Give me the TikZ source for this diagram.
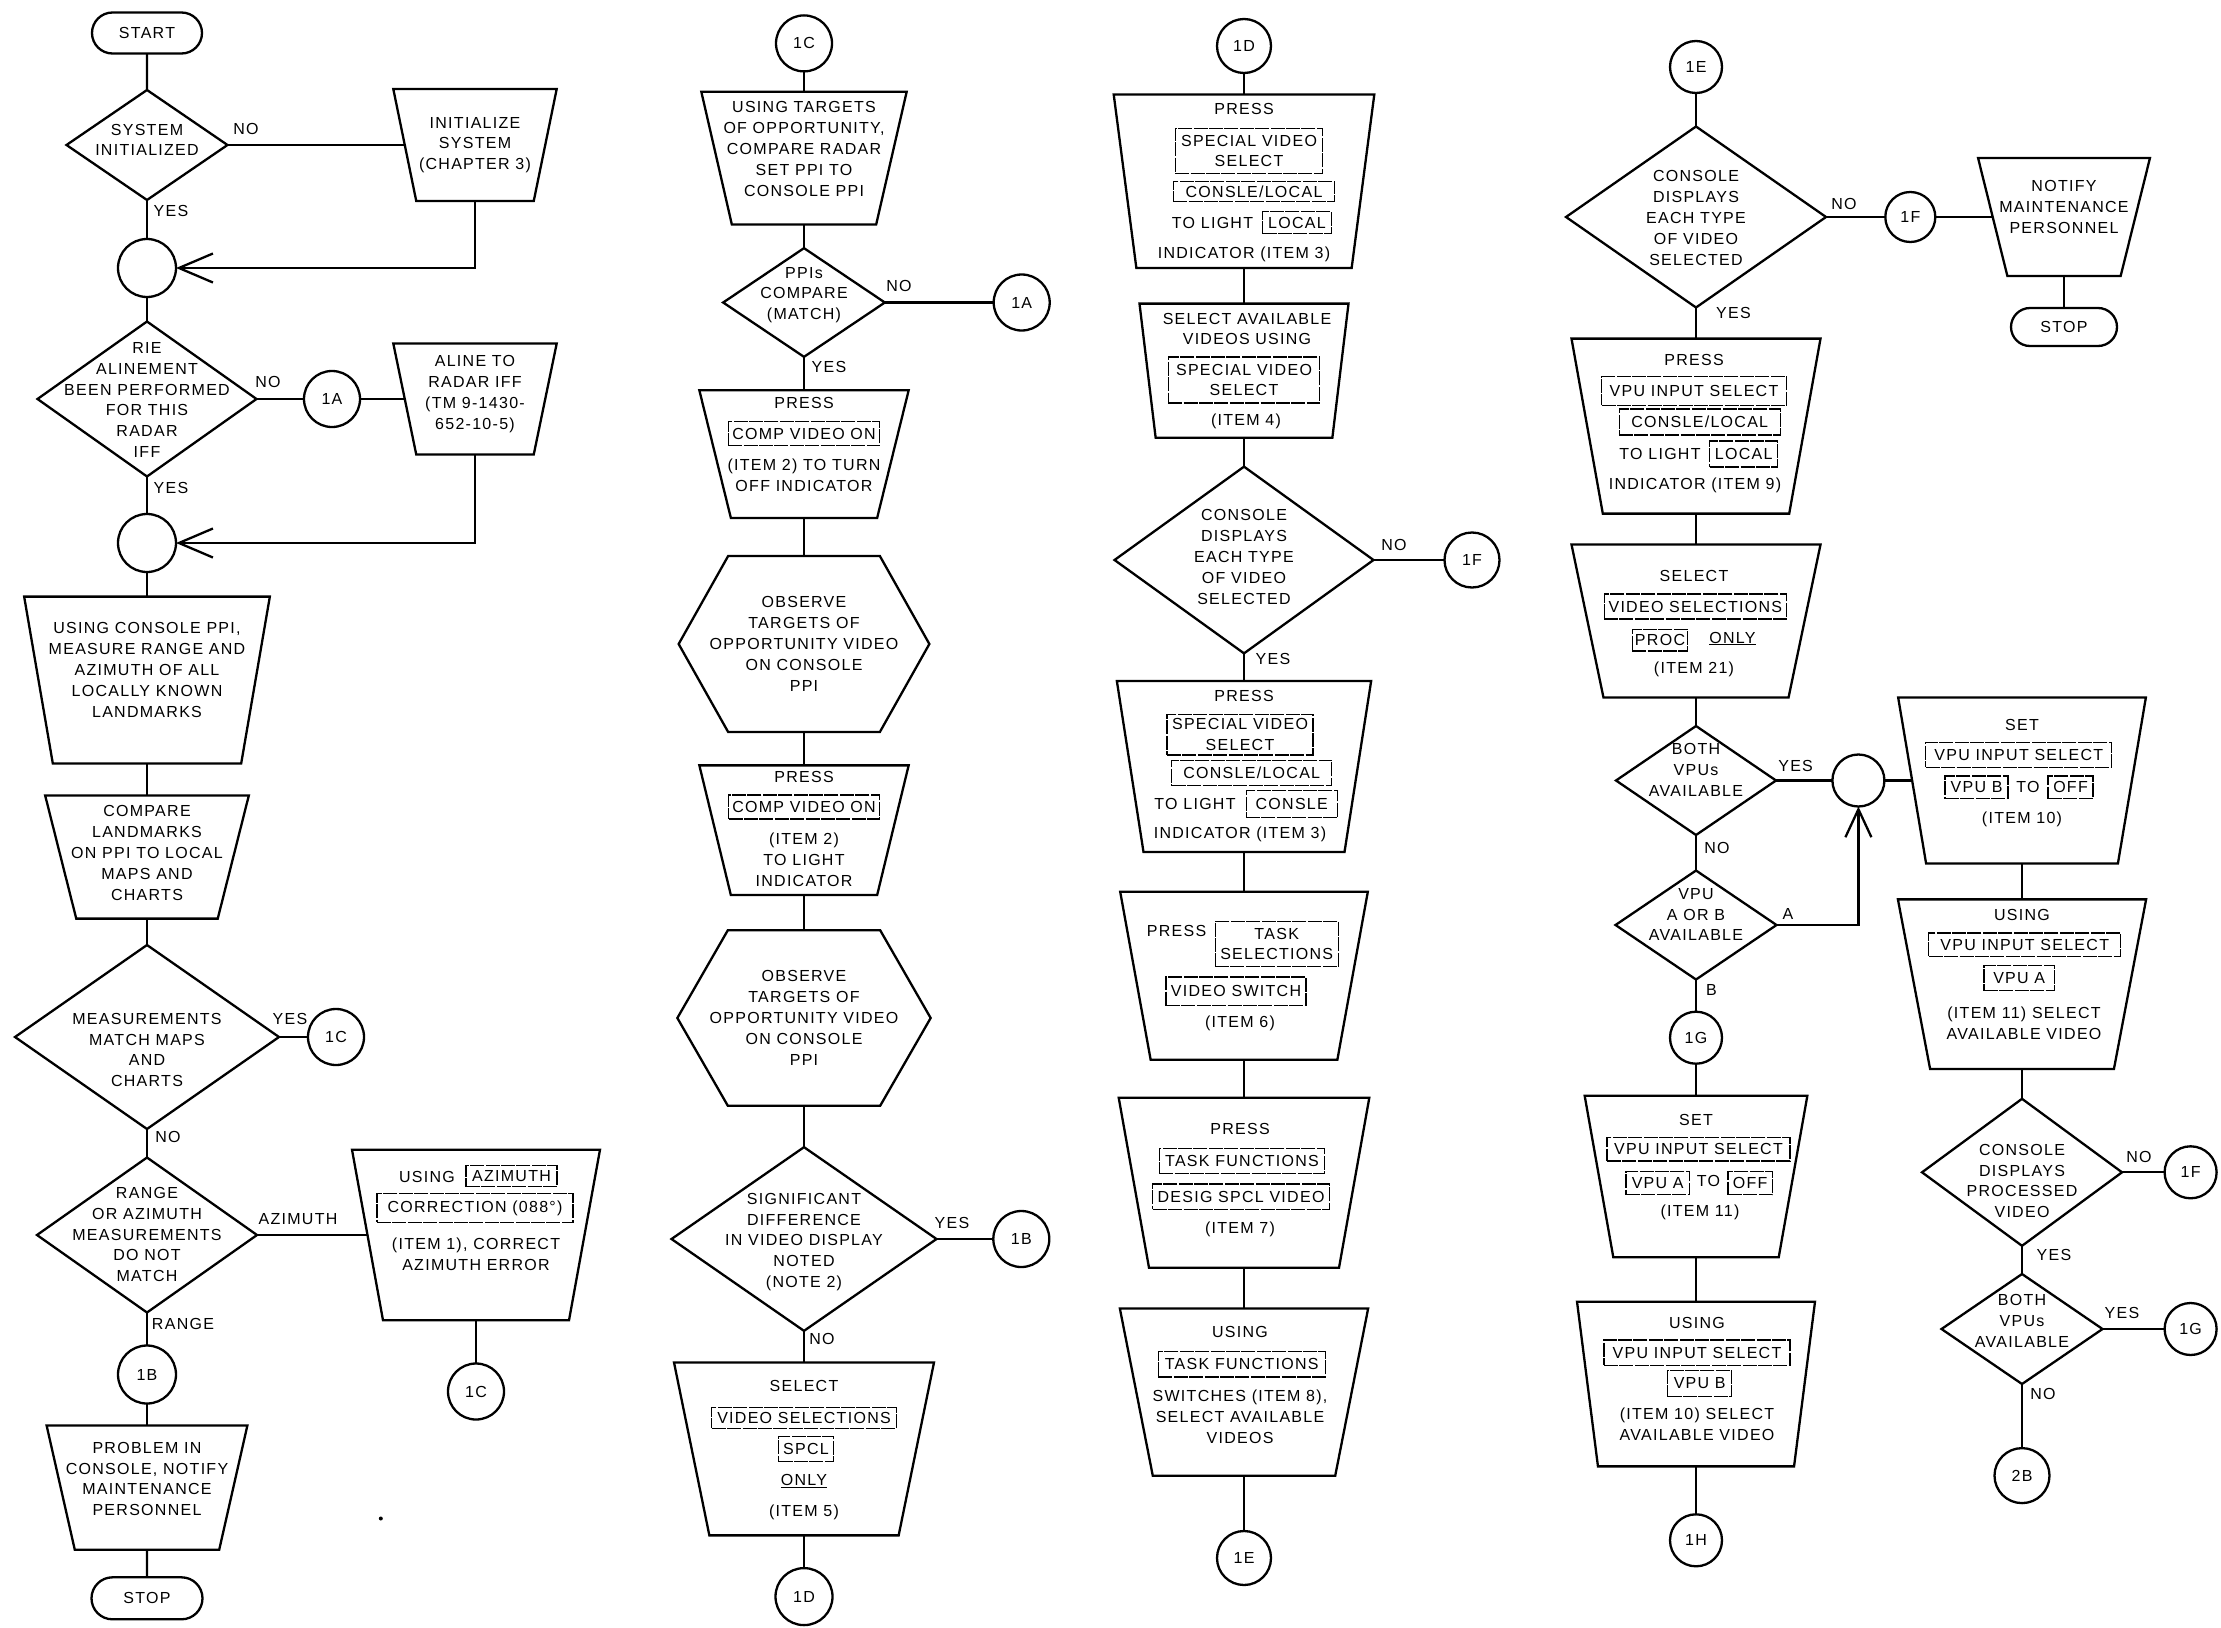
\documentclass[tikz,border=0pt]{standalone}
\usepackage{fontspec}
\setmainfont{Liberation Sans}[LetterSpace=8]
\usetikzlibrary{shapes.geometric,shapes.misc,arrows.meta,calc}
\newcommand\fsz{\fontsize{16pt}{20.8pt}\selectfont}
\tikzset{
  ln/.style={line width=2.3pt},
  lab/.style={font=\fsz, inner sep=0pt},
  txt/.style={font=\fsz, inner sep=0pt, align=center},
  dia/.style 2 args={draw, ln, diamond, inner sep=0pt, outer sep=0pt,
    minimum width=#1, minimum height=#2},
  frame/.style 2 args={inner sep=0pt, outer sep=0pt, minimum width=#1, minimum height=#2},
  conn/.style={draw, ln, circle, inner sep=0pt, outer sep=0pt, minimum size=#1, font=\fsz},
  term/.style 2 args={draw, ln, rounded rectangle, inner sep=0pt, outer sep=0pt,
    minimum width=#1, minimum height=#2, font=\fsz},
  cbox/.style 2 args={draw, line width=1.1pt, dash pattern=on 14pt off 1.4pt,
    inner sep=0pt, minimum width=#1, minimum height=#2, font=\fsz, align=center},
  barb/.style={-{Straight Barb[length=34pt,width=29pt]}},
  barbs/.style={-{Straight Barb[length=28pt,width=26pt]}},
}
% process box: name, x, y, top width, bottom width, height
\newcommand\trapz[6]{%
  \node[frame={#4}{#6}] (#1) at (#2,#3) {};
  \draw[ln] (#1.north west) -- (#1.north east)
    -- ($(#1.south east)+({-(#4-#5)/2},0)$)
    -- ($(#1.south west)+({(#4-#5)/2},0)$) -- cycle;
  \coordinate (#1-w) at ($(#1.west)+({(#4-#5)/4},0)$);
  \coordinate (#1-e) at ($(#1.east)+({-(#4-#5)/4},0)$);
}
% observation box: name, x, y, width, height, point depth
\newcommand\hexa[6]{%
  \node[frame={#4}{#5}] (#1) at (#2,#3) {};
  \draw[ln] (#1.west) -- ($(#1.north west)+(#6,0)$) -- ($(#1.north east)+(-#6,0)$)
    -- (#1.east) -- ($(#1.south east)+(-#6,0)$) -- ($(#1.south west)+(#6,0)$) -- cycle;
}
\begin{document}
\begin{tikzpicture}[x=1pt,y=-1pt]
\useasboundingbox (0,0) rectangle (2221,1627);

% ---------------- column 1 ----------------
\node[term={110}{41}] (start) at (147,33) {START};
\node[dia={161}{110}] (d1) at (147,145) {};
\node[txt] (d1x) at (147,140) {SYSTEM\\INITIALIZED};
\node[lab] (d1no) at (246,129) {NO};
\trapz{t1}{475}{145}{163.4}{117.5}{112}
\node[txt] (t1x) at (475,145) {INITIALIZE\\SYSTEM\\(CHAPTER 3)};
\node[conn=58] (j1) at (147,268) {};
\node[lab] (d1yes) at (171,211) {YES};
\node[dia={219}{155}] (d2) at (147,399) {};
\node[txt] (d2x) at (147,400) {RIE\\ALINEMENT\\BEEN PERFORMED\\FOR THIS\\RADAR\\IFF};
\node[lab] (d2no) at (268,382) {NO};
\node[conn=56] (c1a) at (332,399) {1A};
\trapz{t2}{475}{399}{163.4}{117.5}{111}
\node[txt] (t2x) at (475,394) {ALINE TO\\RADAR IFF\\(TM 9-1430-\\652-10-5)};
\node[lab] (d2yes) at (171,488) {YES};
\node[conn=58] (j2) at (147,543) {};
\trapz{t3}{147}{680}{245.7}{188.4}{166.8}
\node[txt] (t3x) at (147,670) {USING CONSOLE PPI,\\MEASURE RANGE AND\\AZIMUTH OF ALL\\LOCALLY KNOWN\\LANDMARKS};
\trapz{t4}{147}{857}{203.7}{141.5}{123.2}
\node[txt] (t4x) at (147,853) {COMPARE\\LANDMARKS\\ON PPI TO LOCAL\\MAPS AND\\CHARTS};
\node[dia={264}{184}] (d3) at (147,1037) {};
\node[txt] (d3x) at (147,1050) {MEASUREMENTS\\MATCH MAPS\\AND\\CHARTS};
\node[lab] (d3yes) at (290,1019) {YES};
\node[conn=56] (c1c) at (336,1037) {1C};
\node[lab] (d3no) at (168,1137) {NO};
\node[dia={220}{155}] (d4) at (147,1235) {};
\node[txt] (d4x) at (147,1234.5) {RANGE\\OR AZIMUTH\\MEASUREMENTS\\DO NOT\\MATCH};
\node[lab] (d4az) at (298,1219) {AZIMUTH};
\trapz{t5}{476}{1235}{248}{186}{170.6}
\node[lab] (t5a) at (427,1177) {USING};
\node[cbox={91}{21}] (t5b) at (511.5,1176) {AZIMUTH};
\node[cbox={196}{28.7}] (t5c) at (475,1208) {CORRECTION (088°)};
\node[txt] (t5d) at (476,1254.6) {(ITEM 1), CORRECT\\AZIMUTH ERROR};
\node[conn=56] (c1c2) at (476,1391.5) {1C};
\node[lab] (d4rng) at (183,1323.5) {RANGE};
\node[conn=58] (c1b) at (147,1374.5) {1B};
\trapz{t6}{147}{1487.6}{200.8}{144.4}{124.4}
\node[txt] (t6x) at (147,1479) {PROBLEM IN\\CONSOLE, NOTIFY\\MAINTENANCE\\PERSONNEL};
\node[term={111}{42}] (stop1) at (147,1598.3) {STOP};
\fill (380.8,1518.5) circle (2pt);

\draw[ln] (start) -- (d1);
\draw[ln] (d1) -- (t1-w);
\draw[ln,barb] (t1) |- (j1);
\draw[ln] (d1) -- (j1);
\draw[ln] (j1) -- (d2);
\draw[ln] (d2) -- (c1a);
\draw[ln] (c1a) -- (t2-w);
\draw[ln,barb] (t2) |- (j2);
\draw[ln] (d2) -- (j2);
\draw[ln] (j2) -- (t3);
\draw[ln] (t3) -- (t4);
\draw[ln] (t4) -- (d3);
\draw[ln] (d3) -- (c1c);
\draw[ln] (d3) -- (d4);
\draw[ln] (d4) -- (t5-w);
\draw[ln] (t5) -- (c1c2);
\draw[ln] (d4) -- (c1b);
\draw[ln] (c1b) -- (t6);
\draw[ln] (t6) -- (stop1);

% ---------------- column 2 ----------------
\node[conn=56] (c1cB) at (804,43.4) {1C};
\trapz{t7}{804}{158.2}{205.3}{144.3}{132.7}
\node[txt] (t7x) at (804,149) {USING TARGETS\\OF OPPORTUNITY,\\COMPARE RADAR\\SET PPI TO\\CONSOLE PPI};
\node[dia={161.7}{108.7}] (d5) at (804,302.5) {};
\node[txt] (d5x) at (804,295) {PPIs\\COMPARE\\(MATCH)};
\node[lab] (d5no) at (899,286) {NO};
\node[conn=56] (c1aB) at (1021.7,302.5) {1A};
\node[lab] (d5yes) at (829,367) {YES};
\trapz{t8}{804}{454.1}{209.3}{146.3}{127.6}
\node[lab] (t8a) at (804,403) {PRESS};
\node[cbox={151.7}{24}] (t8b) at (804,433.7) {COMP VIDEO ON};
\node[txt] (t8c) at (804,475) {(ITEM 2) TO TURN\\OFF INDICATOR};
\hexa{h1}{804}{644}{250.7}{176}{49.5}
\node[txt] (h1x) at (804,644) {OBSERVE\\TARGETS OF\\OPPORTUNITY VIDEO\\ON CONSOLE\\PPI};
\trapz{t9}{804}{830.2}{209.3}{146.3}{129.7}
\node[lab] (t9a) at (804,776.5) {PRESS};
\node[cbox={150.7}{24}] (t9b) at (804,807) {COMP VIDEO ON};
\node[txt] (t9c) at (804,860) {(ITEM 2)\\TO LIGHT\\INDICATOR};
\hexa{h2}{804}{1018}{253.3}{175.6}{50.5}
\node[txt] (h2x) at (804,1018) {OBSERVE\\TARGETS OF\\OPPORTUNITY VIDEO\\ON CONSOLE\\PPI};
\node[dia={265}{183.7}] (d6) at (804,1239) {};
\node[txt] (d6x) at (804,1242) {SIGNIFICANT\\DIFFERENCE\\IN VIDEO DISPLAY\\NOTED\\(NOTE 2)};
\node[lab] (d6yes) at (952,1223) {YES};
\node[conn=56] (c1bB) at (1021.3,1239) {1B};
\node[lab] (d6no) at (822,1339) {NO};
\trapz{t10}{804}{1448.9}{260}{189.3}{172.9}
\node[lab] (t10a) at (804,1386) {SELECT};
\node[cbox={184.6}{20.5}] (t10b) at (804,1418) {VIDEO SELECTIONS};
\node[cbox={54.7}{25.4}] (t10c) at (806,1449) {SPCL};
\node[lab] (t10d) at (804,1481) {\underline{ONLY}};
\node[lab] (t10e) at (804,1512) {(ITEM 5)};
\node[conn=57] (c1d) at (804,1596.6) {1D};

\draw[ln] (c1cB) -- (t7);
\draw[ln] (t7) -- (d5);
\draw[ln] (d5) -- (c1aB);
\draw[ln] (d5) -- (t8);
\draw[ln] (t8) -- (h1);
\draw[ln] (h1) -- (t9);
\draw[ln] (t9) -- (h2);
\draw[ln] (h2) -- (d6);
\draw[ln] (d6) -- (c1bB);
\draw[ln] (d6) -- (t10);
\draw[ln] (t10) -- (c1d);

% ---------------- column 3 ----------------
\node[conn=54] (c1dB) at (1244,46) {1D};
\trapz{t11}{1244}{181.2}{260.6}{215.3}{173.5}
\node[lab] (t11a) at (1244,108.7) {PRESS};
\node[cbox={147.7}{45}] (t11b) at (1249,151) {SPECIAL VIDEO\\SELECT};
\node[cbox={161.7}{20.5}] (t11c) at (1254,191.3) {CONSLE/LOCAL};
\node[lab] (t11d) at (1212.5,223) {TO LIGHT};
\node[cbox={69}{22}] (t11e) at (1297,222.7) {LOCAL};
\node[lab] (t11f) at (1244,254) {INDICATOR (ITEM 3)};
\trapz{t12}{1244}{370.7}{209}{176.7}{134.2}
\node[txt] (t12a) at (1247,329) {SELECT AVAILABLE\\VIDEOS USING};
\node[cbox={151.7}{46}] (t12b) at (1244,380) {SPECIAL VIDEO\\SELECT};
\node[lab] (t12c) at (1246,421) {(ITEM 4)};
\node[dia={259}{186.7}] (d7) at (1244,560) {};
\node[txt] (d7x) at (1244,557) {CONSOLE\\DISPLAYS\\EACH TYPE\\OF VIDEO\\SELECTED};
\node[lab] (d7no) at (1394,545) {NO};
\node[conn=55] (c1f) at (1472,560) {1F};
\node[lab] (d7yes) at (1273,659) {YES};
\trapz{t13}{1244}{766.5}{254.3}{201}{171}
\node[lab] (t13a) at (1244,696.4) {PRESS};
\node[cbox={146}{40.7}] (t13b) at (1240,734.6) {SPECIAL VIDEO\\SELECT};
\node[cbox={160}{25.7}] (t13c) at (1251.7,773) {CONSLE/LOCAL};
\node[lab] (t13d) at (1195,804.3) {TO LIGHT};
\node[cbox={91.3}{27}] (t13e) at (1291.7,804.3) {CONSLE};
\node[lab] (t13f) at (1240,834) {INDICATOR (ITEM 3)};
\trapz{t14}{1244}{975.8}{247.6}{186.7}{168}
\node[lab] (t14a) at (1176.5,931.3) {PRESS};
\node[cbox={123.3}{45}] (t14b) at (1276.7,944) {TASK\\SELECTIONS};
\node[cbox={140}{28.8}] (t14c) at (1236,991.4) {VIDEO SWITCH};
\node[lab] (t14d) at (1240,1023) {(ITEM 6)};
\trapz{t15}{1244}{1182.75}{250.6}{190}{170.1}
\node[lab] (t15a) at (1240,1128.5) {PRESS};
\node[cbox={165.7}{24.8}] (t15b) at (1242,1161) {TASK FUNCTIONS};
\node[cbox={176.6}{25.5}] (t15c) at (1241,1196.7) {DESIG SPCL VIDEO};
\node[lab] (t15d) at (1240,1229.5) {(ITEM 7)};
\trapz{t16}{1244}{1392.1}{248.3}{182.4}{167.4}
\node[lab] (t16a) at (1240,1332) {USING};
\node[cbox={166.7}{25.4}] (t16b) at (1241.7,1364.3) {TASK FUNCTIONS};
\node[txt] (t16c) at (1240,1416.7) {SWITCHES (ITEM 8),\\SELECT AVAILABLE\\VIDEOS};
\node[conn=54] (c1e) at (1244,1558) {1E};

\draw[ln] (c1dB) -- (t11);
\draw[ln] (t11) -- (t12);
\draw[ln] (t12) -- (d7);
\draw[ln] (d7) -- (c1f);
\draw[ln] (d7) -- (t13);
\draw[ln] (t13) -- (t14);
\draw[ln] (t14) -- (t15);
\draw[ln] (t15) -- (t16);
\draw[ln] (t16) -- (c1e);

% ---------------- column 4 ----------------
\node[conn=52] (c1eB) at (1696,67) {1E};
\node[dia={260}{181}] (d8) at (1696,217) {};
\node[txt] (d8x) at (1696,218) {CONSOLE\\DISPLAYS\\EACH TYPE\\OF VIDEO\\SELECTED};
\node[lab] (d8no) at (1844,203.6) {NO};
\node[conn=50] (c1fB) at (1910.3,217) {1F};
\trapz{t17}{2064}{217}{171.9}{113.3}{118}
\node[txt] (t17x) at (2064,207) {NOTIFY\\MAINTENANCE\\PERSONNEL};
\node[term={106}{38}] (stop2) at (2064,327) {STOP};
\node[lab] (d8yes) at (1733.5,312.5) {YES};
\trapz{t18}{1696}{426.1}{249}{186.4}{175}
\node[lab] (t18a) at (1694,360) {PRESS};
\node[cbox={185}{28.6}] (t18b) at (1694,391) {VPU INPUT SELECT};
\node[cbox={161.3}{26}] (t18c) at (1699.7,422) {CONSLE/LOCAL};
\node[lab] (t18d) at (1660,453.6) {TO LIGHT};
\node[cbox={68}{26}] (t18e) at (1743.7,454) {LOCAL};
\node[lab] (t18f) at (1695,485.7) {INDICATOR (ITEM 9)};
\trapz{t19}{1696}{621}{249}{185.1}{152.9}
\node[lab] (t19a) at (1694,576) {SELECT};
\node[cbox={182.5}{25}] (t19b) at (1695.3,606.5) {VIDEO SELECTIONS};
\node[cbox={55.6}{21.4}] (t19c) at (1660,640.3) {PROC};
\node[lab] (t19d) at (1732.4,638.6) {\underline{ONLY}};
\node[lab] (t19e) at (1694,669) {(ITEM 21)};
\node[dia={160}{109}] (d9) at (1696,780.5) {};
\node[txt] (d9x) at (1696,770) {BOTH\\VPUs\\AVAILABLE};
\node[lab] (d9yes) at (1795.6,766.4) {YES};
\node[conn=52] (j3) at (1858.4,780.5) {};
\trapz{t20}{2022}{780.5}{247.7}{191.8}{166}
\node[lab] (t20a) at (2022,725) {SET};
\node[cbox={186}{25}] (t20b) at (2018.8,754.6) {VPU INPUT SELECT};
\node[cbox={63}{22.6}] (t20c) at (1976.5,787.3) {VPU B};
\node[lab] (t20d) at (2028,787) {TO};
\node[cbox={45}{22.6}] (t20e) at (2070.5,787.3) {OFF};
\node[lab] (t20f) at (2022,819) {(ITEM 10)};
\node[lab] (d9no) at (1717,847.5) {NO};
\node[dia={161}{109}] (d10) at (1696,925) {};
\node[txt] (d10x) at (1696,914.5) {VPU\\A OR B\\AVAILABLE};
\node[lab] (d10a) at (1788,913.6) {A};
\node[lab] (d10b) at (1711.5,990.4) {B};
\node[conn=52] (c1g) at (1696,1037.7) {1G};
\trapz{t21}{1696}{1176.5}{222.7}{165.4}{161.6}
\node[lab] (t21a) at (1696,1120) {SET};
\node[cbox={183}{23.4}] (t21b) at (1698.5,1149.3) {VPU INPUT SELECT};
\node[cbox={63.5}{23.8}] (t21c) at (1657.7,1183) {VPU A};
\node[lab] (t21d) at (1708.5,1181) {TO};
\node[cbox={44.4}{23.8}] (t21e) at (1750.2,1183) {OFF};
\node[lab] (t21f) at (1700,1212.6) {(ITEM 11)};
\trapz{t23}{1696}{1384}{238}{196.1}{164.7}
\node[lab] (t23a) at (1697,1322.5) {USING};
\node[cbox={186}{25.5}] (t23b) at (1697,1352.7) {VPU INPUT SELECT};
\node[cbox={64.3}{26}] (t23c) at (1699.7,1383.5) {VPU B};
\node[txt] (t23d) at (1697,1424.3) {(ITEM 10) SELECT\\AVAILABLE VIDEO};
\node[conn=52] (c1h) at (1696,1540.3) {1H};

\trapz{t22}{2022}{984.2}{248.2}{183.8}{169.7}
\node[lab] (t22a) at (2022,915.4) {USING};
\node[cbox={191.7}{23.4}] (t22b) at (2024.7,944.7) {VPU INPUT SELECT};
\node[cbox={70.5}{25}] (t22c) at (2019.2,978) {VPU A};
\node[txt] (t22d) at (2024,1022.9) {(ITEM 11) SELECT\\AVAILABLE VIDEO};
\node[dia={200}{147}] (d11) at (2022,1172.3) {};
\node[txt] (d11x) at (2022,1181) {CONSOLE\\DISPLAYS\\PROCESSED\\VIDEO};
\node[lab] (d11no) at (2139,1157) {NO};
\node[conn=52] (c1fC) at (2190.6,1172.3) {1F};
\node[lab] (d11yes) at (2054,1254.6) {YES};
\node[dia={161}{110}] (d12) at (2022,1329) {};
\node[txt] (d12x) at (2022,1320.6) {BOTH\\VPUs\\AVAILABLE};
\node[lab] (d12yes) at (2122,1313.4) {YES};
\node[conn=52] (c1gB) at (2190.6,1329) {1G};
\node[lab] (d12no) at (2043,1394) {NO};
\node[conn=55] (c2b) at (2022,1475.6) {2B};

\draw[ln] (c1eB) -- (d8);
\draw[ln] (d8) -- (c1fB);
\draw[ln] (c1fB) -- (t17-w);
\draw[ln] (t17) -- (stop2);
\draw[ln] (d8) -- (t18);
\draw[ln] (t18) -- (t19);
\draw[ln] (t19) -- (d9);
\draw[ln] (d9) -- (j3);
\draw[ln] (j3) -- (t20-w);
\draw[ln] (t20) -- (t22);
\draw[ln] (d9) -- (d10);
\draw[ln,barbs] (d10) -| (j3);
\draw[ln] (d10) -- (c1g);
\draw[ln] (c1g) -- (t21);
\draw[ln] (t21) -- (t23);
\draw[ln] (t23) -- (c1h);
\draw[ln] (t22) -- (d11);
\draw[ln] (d11) -- (c1fC);
\draw[ln] (d11) -- (d12);
\draw[ln] (d12) -- (c1gB);
\draw[ln] (d12) -- (c2b);
\end{tikzpicture}
\end{document}
